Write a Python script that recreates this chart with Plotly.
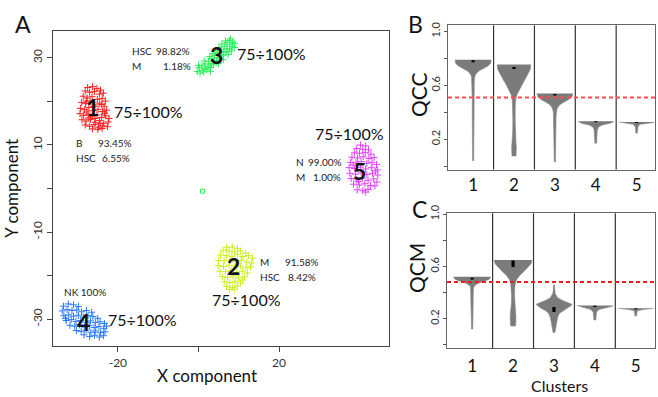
import plotly.graph_objects as go

W, H = 658, 397

c1_pts = [(-27.5,23.2),(-26.3,23.4),(-25.2,23.0),(-24.3,22.6),(-28.1,22.4),(-27.0,22.1),(-25.8,22.3),(-24.6,21.7),
          (-23.6,21.9),(-28.6,21.2),(-27.6,20.8),(-26.4,21.1),(-25.1,20.5),(-23.9,20.7),(-23.1,20.1),(-29.0,19.8),
          (-28.0,19.5),(-26.9,19.9),(-25.7,19.2),(-24.5,19.6),(-23.4,18.9),(-29.3,18.4),(-28.3,18.1),(-27.2,18.6),
          (-26.1,17.9),(-24.9,18.2),(-23.8,17.7),(-22.8,18.0),(-29.4,17.2),(-28.5,16.8),(-27.4,17.1),(-26.4,16.5),
          (-25.2,16.9),(-24.1,16.3),(-23.0,16.7),(-22.2,16.1),(-28.9,15.8),(-27.9,15.5),(-26.8,15.9),(-25.6,15.2),
          (-24.6,15.6),(-23.5,15.0),(-22.4,15.3),(-28.1,14.6),(-27.0,14.3),(-25.9,14.7),(-24.8,14.1),(-23.7,14.4),
          (-22.6,14.2),(-26.3,13.7),(-25.0,13.6),(-23.9,13.8),(-27.8,20.1),(-26.0,18.8),(-24.0,19.3),(-27.7,17.6),
          (-25.7,16.1),(-23.3,17.3),(-27.2,16.2),(-24.4,14.9)]
c2_pts = [(7.0,-13.5),(8.4,-13.4),(9.7,-13.8),(6.1,-14.2),(7.6,-14.4),(9.0,-14.6),(10.4,-14.3),(11.7,-14.8),
          (5.5,-15.3),(6.9,-15.4),(8.3,-15.6),(9.7,-15.2),(11.0,-15.6),(12.4,-15.4),(13.4,-16.0),(5.0,-16.5),
          (6.4,-16.6),(7.8,-16.4),(9.2,-16.8),(10.6,-16.5),(12.0,-16.9),(13.2,-17.1),(4.9,-17.7),(6.2,-17.9),
          (7.6,-17.6),(9.0,-18.0),(10.4,-17.8),(11.8,-18.2),(12.9,-18.0),(5.3,-19.0),(6.7,-19.1),(8.1,-18.9),
          (9.5,-19.3),(10.9,-19.0),(12.2,-19.4),(5.9,-20.2),(7.2,-20.4),(8.6,-20.1),(10.0,-20.5),(11.4,-20.3),
          (6.4,-21.4),(7.8,-21.6),(9.1,-21.3),(10.4,-21.7),(7.0,-22.5),(8.4,-22.7),(9.6,-22.4),(7.7,-23.2),
          (8.9,-23.1),(11.0,-21.0)]
c3_pts = [(-0.3,26.9),(0.4,26.5),(0.9,27.2),(0.2,27.8),(1.3,26.8),(1.6,27.6),(0.9,28.2),(2.1,27.3),(2.4,28.1),
          (1.7,28.6),(2.9,27.8),(3.2,28.7),(2.5,29.2),(3.7,28.4),(3.9,29.4),(3.2,29.9),(4.5,29.1),(4.7,30.1),
          (4.0,30.6),(5.3,29.8),(5.5,30.8),(4.8,31.3),(6.1,30.5),(6.3,31.5),(5.6,32.0),(6.9,31.3),(7.1,32.2),
          (6.4,32.7),(7.7,32.0),(7.8,33.0),(7.1,33.5),(8.4,32.6),(8.5,33.6),(7.7,34.0),(8.9,33.3),(6.7,33.9),
          (5.8,33.2),(5.1,32.4),(4.3,31.7),(3.6,31.0),(2.8,30.3),(7.4,30.8),(6.2,29.6),(8.2,31.6),(0.0,28.3),
          (1.4,29.3),(5.0,28.7),(3.0,26.9),(9.0,32.4),(8.0,34.4)]
c4_pts = [(-33.5,-27.0),(-32.3,-26.5),(-31.0,-26.7),(-29.8,-27.1),(-33.8,-28.1),(-32.6,-27.8),(-31.4,-28.0),
          (-30.2,-27.9),(-29.0,-28.3),(-27.8,-28.0),(-33.4,-29.2),(-32.2,-29.0),(-31.0,-29.3),(-29.8,-29.1),
          (-28.6,-29.5),(-27.4,-29.2),(-26.2,-29.4),(-25.0,-29.8),(-32.8,-30.3),(-31.6,-30.1),(-30.4,-30.5),
          (-29.2,-30.3),(-28.0,-30.7),(-26.8,-30.4),(-25.6,-30.8),(-24.4,-30.6),(-23.3,-31.0),(-31.9,-31.4),
          (-30.7,-31.6),(-29.5,-31.3),(-28.3,-31.8),(-27.1,-31.5),(-25.9,-31.9),(-24.7,-31.7),(-23.5,-32.1),
          (-30.3,-32.6),(-29.1,-32.8),(-27.9,-32.5),(-26.7,-33.0),(-25.5,-32.7),(-24.3,-33.1),(-23.2,-32.9),
          (-27.0,-34.0),(-25.8,-33.7),(-24.6,-34.1),(-23.6,-33.8),(-28.4,-33.6),(-33.0,-29.8),(-26.5,-28.4),
          (-22.8,-31.6)]
c5_pts = [(40.2,10.0),(41.5,9.8),(39.3,9.2),(40.8,9.0),(42.2,8.9),(38.7,8.2),(40.0,8.1),(41.4,8.3),(42.8,7.9),
          (38.1,7.2),(39.5,7.0),(40.9,7.3),(42.3,6.9),(43.6,7.1),(37.8,6.0),(39.1,5.9),(40.4,6.2),(41.8,5.8),
          (43.1,6.0),(44.2,5.5),(37.4,4.8),(38.7,4.6),(40.2,4.9),(41.5,4.5),(42.9,4.8),(44.4,4.3),(37.6,3.5),
          (39.0,3.3),(40.4,3.6),(41.8,3.2),(43.2,3.5),(44.5,3.1),(37.9,2.3),(39.3,2.0),(40.7,2.4),(42.1,1.9),
          (43.5,2.2),(44.3,1.5),(38.5,1.0),(39.9,0.8),(41.3,1.1),(42.7,0.7),(43.8,0.6),(39.4,-0.3),(40.8,-0.5),
          (42.1,-0.2),(41.5,-0.8),(38.4,5.4),(43.9,4.0),(39.7,1.6)]
outlier_pt = [(1.0, -0.6)]

cluster_ids = ["1", "2", "3", "4", "5"]
cluster_colors = ["#ff2020", "#c8ee1e", "#2cef5c", "#2a78ff", "#e040ff"]
cluster_pts = [c1_pts, c2_pts, c3_pts, c4_pts, c5_pts]
cluster_num_pos = [(-26.2, 18.8), (8.6, -17.8), (4.6, 30.7), (-28.6, -30.7), (40.0, 4.0)]
range_text = "75÷100%"
composition = {
    "1": [("B", "93.45%"), ("HSC", "6.55%")],
    "2": [("M", "91.58%"), ("HSC", "8.42%")],
    "3": [("HSC", "98.82%"), ("M", "1.18%")],
    "4": [("NK 100%", "")],
    "5": [("N", "99.00%"), ("M", "1.00%")],
}

x_ticks_A = [-20, 0, 20]
x_ticktext_A = ["-20", "", "20"]
y_ticks_A = [-30, -20, -10, 0, 10, 20, 30]
y_ticktext_A = ["-30", "", "-10", "", "10", "", "30"]

clusters = [1, 2, 3, 4, 5]
qcc_levels = [
    [0.79, 0.785, 0.765, 0.745, 0.725, 0.705, 0.685, 0.665, 0.62, 0.5, 0.3, 0.1, 0.04],
    [0.755, 0.75, 0.72, 0.69, 0.65, 0.61, 0.57, 0.53, 0.50, 0.45, 0.35, 0.25, 0.18, 0.14, 0.10, 0.075],
    [0.54, 0.535, 0.515, 0.495, 0.475, 0.455, 0.43, 0.40, 0.35, 0.2, 0.03],
    [0.333, 0.328, 0.318, 0.305, 0.29, 0.27, 0.24, 0.2, 0.17],
    [0.328, 0.324, 0.317, 0.31, 0.29, 0.27, 0.245],
]
qcc_widths = [
    [0.44, 0.44, 0.43, 0.37, 0.25, 0.13, 0.07, 0.04, 0.028, 0.022, 0.02, 0.018, 0.014],
    [0.41, 0.41, 0.40, 0.35, 0.28, 0.2, 0.13, 0.07, 0.045, 0.032, 0.028, 0.032, 0.048, 0.058, 0.058, 0.05],
    [0.44, 0.44, 0.42, 0.34, 0.22, 0.12, 0.06, 0.037, 0.028, 0.022, 0.015],
    [0.43, 0.43, 0.35, 0.16, 0.07, 0.04, 0.032, 0.027, 0.022],
    [0.44, 0.42, 0.25, 0.08, 0.032, 0.025, 0.02],
]
qcc_box = [(0.772, 0.786), (0.722, 0.737), (0.525, 0.536), (0.326, 0.333), (0.321, 0.327)]

qcm_levels = [
    [0.52, 0.515, 0.50, 0.485, 0.47, 0.455, 0.44, 0.42, 0.35, 0.25, 0.12],
    [0.65, 0.645, 0.62, 0.59, 0.56, 0.53, 0.50, 0.475, 0.44, 0.38, 0.31, 0.26, 0.22, 0.18, 0.15, 0.143],
    [0.46, 0.42, 0.39, 0.36, 0.34, 0.32, 0.31, 0.30, 0.28, 0.26, 0.24, 0.21, 0.18, 0.15, 0.12, 0.094],
    [0.30, 0.295, 0.285, 0.27, 0.25, 0.22, 0.19],
    [0.28, 0.277, 0.27, 0.26, 0.24, 0.22],
]
qcm_widths = [
    [0.45, 0.45, 0.41, 0.28, 0.14, 0.07, 0.04, 0.03, 0.024, 0.02, 0.015],
    [0.46, 0.46, 0.44, 0.36, 0.26, 0.16, 0.09, 0.06, 0.042, 0.037, 0.042, 0.06, 0.07, 0.07, 0.065, 0.05],
    [0.012, 0.016, 0.03, 0.09, 0.2, 0.36, 0.44, 0.42, 0.32, 0.2, 0.13, 0.09, 0.07, 0.055, 0.045, 0.022],
    [0.44, 0.43, 0.3, 0.1, 0.04, 0.03, 0.025],
    [0.44, 0.4, 0.18, 0.04, 0.025, 0.018],
]
qcm_box = [(0.500, 0.513), (0.595, 0.645), (0.25, 0.29), (0.289, 0.298), (0.272, 0.279)]

qcc_threshold = 0.51
qcm_threshold = 0.48
q_ticks = [0, 0.2, 0.4, 0.6, 0.8, 1.0]
q_ticktext = ["", "0.2", "", "0.6", "", "1.0"]

FONT = "Lato"
fig = go.Figure()

for pts, col in zip(cluster_pts, cluster_colors):
    fig.add_trace(go.Scatter(
        x=[p[0] for p in pts], y=[p[1] for p in pts], mode="markers",
        marker=dict(symbol="cross-thin", size=5, color=col, line=dict(color=col, width=1)),
        xaxis="x", yaxis="y", showlegend=False, hoverinfo="skip"))
fig.add_trace(go.Scatter(
    x=[p[0] for p in outlier_pt], y=[p[1] for p in outlier_pt], mode="markers",
    marker=dict(symbol="square-open", size=4, color=cluster_colors[2], line=dict(width=1)),
    xaxis="x", yaxis="y", showlegend=False, hoverinfo="skip"))

VIOLIN = "#7b7b7b"


def add_violins(levels_all, widths_all, boxes, xa, ya):
    for c, lv, wd, bx in zip(clusters, levels_all, widths_all, boxes):
        xs = [c + w for w in wd] + [c - w for w in reversed(wd)]
        ys = list(lv) + list(reversed(lv))
        fig.add_trace(go.Scatter(x=xs, y=ys, fill="toself", fillcolor=VIOLIN, mode="lines",
                                 line=dict(color="#8a8a8a", width=0.6), xaxis=xa, yaxis=ya,
                                 showlegend=False, hoverinfo="skip"))
        fig.add_trace(go.Scatter(x=[c, c], y=[bx[0], bx[1]], mode="lines",
                                 line=dict(color="black", width=3.2), xaxis=xa, yaxis=ya,
                                 showlegend=False, hoverinfo="skip"))


add_violins(qcc_levels, qcc_widths, qcc_box, "x2", "y2")
add_violins(qcm_levels, qcm_widths, qcm_box, "x3", "y3")


def dx(px):
    return px / W


def dy(py):
    return 1 - py / H


axis_common = dict(showgrid=False, zeroline=False, showline=True, mirror=True)

fig.update_layout(
    width=W, height=H, margin=dict(l=0, r=0, t=0, b=0),
    paper_bgcolor="white", plot_bgcolor="white",
    font=dict(family=FONT, color="#222"),
    xaxis=dict(domain=[dx(53), dx(389)], range=[-36.1, 47.3], anchor="y",
               tickvals=x_ticks_A, ticktext=x_ticktext_A, ticks="outside", ticklen=5,
               tickcolor="#444", linecolor="#444", linewidth=1,
               tickfont=dict(size=12, color="#333"), **axis_common),
    yaxis=dict(domain=[dy(345), dy(23)], range=[-36.2, 36.07], anchor="x",
               tickvals=y_ticks_A, ticktext=y_ticktext_A, ticks="outside", ticklen=5,
               tickcolor="#444", linecolor="#444", linewidth=1, tickangle=-90,
               tickfont=dict(size=12, color="#333"), **axis_common),
    xaxis2=dict(domain=[dx(448), dx(655)], range=[0.385, 5.45], anchor="y2",
                tickvals=clusters, ticktext=[str(c) for c in clusters], ticks="",
                linecolor="#666", linewidth=1.2,
                tickfont=dict(size=17, color="#111"), **axis_common),
    yaxis2=dict(domain=[dy(164.3), dy(16.7)], range=[-0.026, 1.046], anchor="x2",
                tickvals=q_ticks, ticktext=q_ticktext, ticks="outside", ticklen=3,
                tickcolor="#555", linecolor="#666", linewidth=1.2, tickangle=-90,
                tickfont=dict(size=11, color="#333"), **axis_common),
    xaxis3=dict(domain=[dx(447), dx(655)], range=[0.385, 5.47], anchor="y3",
                tickvals=clusters, ticktext=[str(c) for c in clusters], ticks="",
                ticklabelstandoff=2, linecolor="#666", linewidth=1.2,
                tickfont=dict(size=17, color="#111"), **axis_common),
    yaxis3=dict(domain=[dy(347.3), dy(209)], range=[-0.028, 1.007], anchor="x3",
                tickvals=q_ticks, ticktext=q_ticktext, ticks="outside", ticklen=3,
                tickcolor="#555", linecolor="#666", linewidth=1.2, tickangle=-90,
                tickfont=dict(size=11, color="#333"), **axis_common),
)

shapes = []
for xa, ya, thr, rc in [("x2", "y2", qcc_threshold, "#ff4d4d"), ("x3", "y3", qcm_threshold, "#ee1c1c")]:
    for k in [1.5, 2.5, 3.5, 4.5]:
        shapes.append(dict(type="line", xref=xa, yref=ya + " domain", x0=k, x1=k, y0=0, y1=1,
                           line=dict(color="#333", width=1.2)))
    shapes.append(dict(type="line", xref=xa + " domain", yref=ya, x0=0, x1=1, y0=thr, y1=thr,
                       line=dict(color=rc, width=2, dash="4px,3px")))
fig.update_layout(shapes=shapes)

ann = []


def add_text(x, y, text, size, xanchor="center", ref=("x", "y"), color="#111", angle=0,
             yanchor="middle"):
    ann.append(dict(x=x, y=y, xref=ref[0], yref=ref[1], text=text, showarrow=False,
                    xanchor=xanchor, yanchor=yanchor, textangle=angle,
                    font=dict(size=size, color=color, family=FONT)))


for cid, (x, y) in zip(cluster_ids, cluster_num_pos):
    add_text(x, y, "<b>" + cid + "</b>", 23)

add_text(-21.5, 17.6, range_text, 16, "left")
add_text(9.07, 30.9, range_text, 16, "left")
add_text(37.4, 12.54, range_text, 16, "center")
add_text(12.05, -25.4, range_text, 16, "center")
add_text(-23.0, -30.0, range_text, 16, "left")

comp_layout = {
    "1": (-30.9, [-16.0, -16.6], [10.45, 7.1]),
    "2": (14.86, [30.36, 29.6], [-16.8, -20.2]),
    "3": (-17.1, [-1.5, -1.3], [31.5, 28.1]),
    "4": (-33.84, [0, 0], [-23.8]),
    "5": (23.8, [36.1, 36.0], [6.18, 2.58]),
}
for cid, rows in composition.items():
    lx, vxs, ys = comp_layout[cid]
    for (lab, val), vx, yy in zip(rows, vxs, ys):
        add_text(lx, yy, lab, 10, "left", color="#222")
        if val:
            add_text(vx, yy, val, 10, "right", color="#222")

P = ("paper", "paper")
add_text(dx(207), dy(375), "X component", 17, ref=P)
add_text(dx(12), dy(184), "Y component", 17, ref=P, angle=-90)
add_text(dx(418), dy(87), "QCC", 21, ref=P, angle=-90)
add_text(dx(417), dy(265), "QCM", 21, ref=P, angle=-90)
add_text(dx(559), dy(396.5), "Clusters", 16, ref=P, yanchor="bottom")
add_text(dx(23), dy(15), "A", 23, ref=P, color="#111")
add_text(dx(415), dy(15), "B", 23, ref=P, color="#111")
add_text(dx(419), dy(205), "C", 23, ref=P, color="#111")

fig.update_layout(annotations=ann)
fig.write_html("out.html", config={"displayModeBar": False})

with open("out.html", "r", encoding="utf-8") as f:
    html = f.read()
html = html.replace("<head>", "<head><style>html,body{margin:0;padding:0;overflow:hidden;}</style>", 1)
with open("out.html", "w", encoding="utf-8") as f:
    f.write(html)
